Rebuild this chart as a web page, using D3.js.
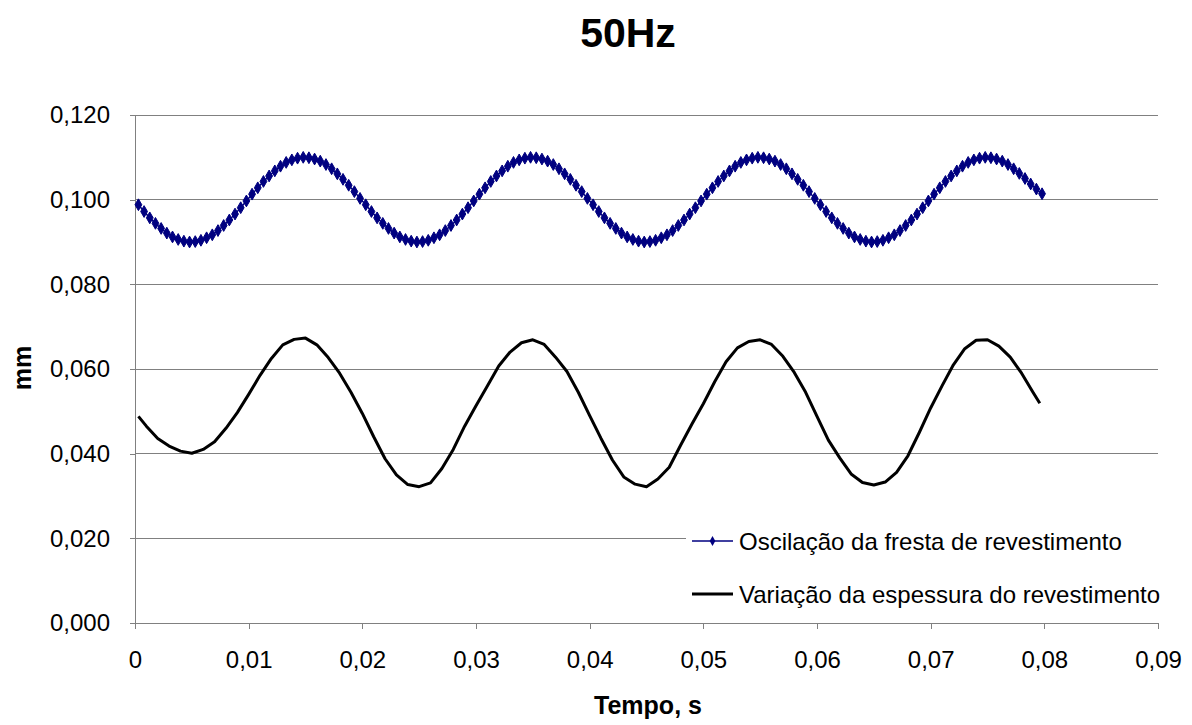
<!DOCTYPE html>
<html><head><meta charset="utf-8">
<script src="https://cdn.jsdelivr.net/npm/d3@7"></script>
<style>body{margin:0;background:#fff}svg{display:block}text{font-family:"Liberation Sans",Arial,sans-serif}</style>
</head><body><svg id="c" width="1192" height="725"></svg>
<script>
const title = "50Hz";
const xLabel = "Tempo, s";
const yLabel = "mm";
const xTicks = [0,0.01,0.02,0.03,0.04,0.05,0.06,0.07,0.08,0.09];
const xTickLabels = ["0","0,01","0,02","0,03","0,04","0,05","0,06","0,07","0,08","0,09"];
const yTicks = [0,0.02,0.04,0.06,0.08,0.10,0.12];
const yTickLabels = ["0,000","0,020","0,040","0,060","0,080","0,100","0,120"];
const seriesNames = ["Oscilação da fresta de revestimento","Variação da espessura do revestimento"];

// Series 1: time (s), sampled every 0.0005 s starting at 0.0003
const fendaStart = 0.0003, fendaStep = 0.0005;
const fendaValues = [
0.0988,0.0972,0.0957,0.0944,0.0932,0.0921,0.0912,0.0906,0.0902,0.0900,0.0901,0.0904,0.0910,0.0917,0.0927,0.0939,0.0952,0.0966,0.0981,0.0997,
0.1013,0.1028,0.1043,0.1056,0.1068,0.1079,0.1088,0.1094,0.1098,0.1100,0.1099,0.1096,0.1091,0.1083,0.1073,0.1061,0.1048,0.1034,0.1019,0.1003,
0.0988,0.0972,0.0957,0.0944,0.0932,0.0921,0.0912,0.0906,0.0902,0.0900,0.0901,0.0904,0.0910,0.0917,0.0927,0.0939,0.0952,0.0966,0.0981,0.0997,
0.1013,0.1028,0.1043,0.1056,0.1068,0.1079,0.1088,0.1094,0.1098,0.1100,0.1099,0.1096,0.1091,0.1083,0.1073,0.1061,0.1048,0.1034,0.1019,0.1003,
0.0988,0.0972,0.0957,0.0944,0.0932,0.0921,0.0912,0.0906,0.0902,0.0900,0.0901,0.0904,0.0910,0.0917,0.0927,0.0939,0.0952,0.0966,0.0981,0.0997,
0.1013,0.1028,0.1043,0.1056,0.1068,0.1079,0.1088,0.1094,0.1098,0.1100,0.1099,0.1096,0.1091,0.1083,0.1073,0.1061,0.1048,0.1034,0.1019,0.1003,
0.0988,0.0972,0.0957,0.0944,0.0932,0.0921,0.0912,0.0906,0.0902,0.0900,0.0901,0.0904,0.0910,0.0917,0.0927,0.0939,0.0952,0.0966,0.0981,0.0997,
0.1013,0.1028,0.1043,0.1056,0.1068,0.1079,0.1088,0.1094,0.1098,0.1100,0.1099,0.1096,0.1091,0.1083,0.1073,0.1062,0.1050,0.1037,0.1025,0.1014
];

// Series 2
const espTimes = [0.0003,0.001,0.002,0.003,0.004,0.005,0.006,0.007,0.008,0.009,0.010,0.011,0.012,0.013,0.014,0.015,0.016,0.017,0.018,0.019,
0.020,0.021,0.022,0.023,0.024,0.025,0.026,0.027,0.028,0.029,0.030,0.031,0.032,0.033,0.034,0.035,0.036,0.037,0.038,0.039,
0.040,0.041,0.042,0.043,0.044,0.045,0.046,0.047,0.048,0.049,0.050,0.051,0.052,0.053,0.054,0.055,0.056,0.057,0.058,0.059,
0.060,0.061,0.062,0.063,0.064,0.065,0.066,0.067,0.068,0.069,0.070,0.071,0.072,0.073,0.074,0.075,0.076,0.077,0.078,0.079,0.0796];
const espValues = [0.0488,0.0465,0.0436,0.0418,0.0406,0.0401,0.0410,0.0428,0.0460,0.0497,0.0540,0.0585,0.0625,0.0657,0.0670,0.0673,0.0657,0.0627,0.0590,0.0545,
0.0495,0.0440,0.0388,0.0350,0.0327,0.0322,0.0331,0.0365,0.0410,0.0465,0.0513,0.0560,0.0607,0.0640,0.0662,0.0669,0.0658,0.0628,0.0594,0.0545,
0.0490,0.0436,0.0385,0.0345,0.0328,0.0322,0.0340,0.0368,0.0420,0.0470,0.0518,0.0570,0.0617,0.0650,0.0665,0.0669,0.0658,0.0630,0.0592,0.0545,
0.0488,0.0432,0.0390,0.0352,0.0332,0.0326,0.0333,0.0356,0.0395,0.0450,0.0508,0.0560,0.0610,0.0648,0.0668,0.0669,0.0654,0.0628,0.0590,0.0545,0.0519];

const svg = d3.select("#c");
const L = 135, R = 1158, T = 115, B = 623;
const x = d3.scaleLinear().domain([0,0.09]).range([L,R]);
const y = d3.scaleLinear().domain([0,0.12]).range([B,T]);

// gridlines
svg.append("g").selectAll("line").data(yTicks.filter(d=>d>0)).join("line")
  .attr("x1",L).attr("x2",R).attr("y1",d=>y(d)).attr("y2",d=>y(d))
  .attr("stroke","#808080").attr("stroke-width",1).attr("shape-rendering","crispEdges");

// axes
const yAxis = svg.append("g").attr("transform",`translate(${L},0)`)
  .call(d3.axisLeft(y).tickValues(yTicks).tickFormat((d,i)=>yTickLabels[i]).tickSize(5).tickPadding(20));
const xAxis = svg.append("g").attr("transform",`translate(0,${B})`)
  .call(d3.axisBottom(x).tickValues(xTicks).tickFormat((d,i)=>xTickLabels[i]).tickSize(6).tickPadding(22));
[yAxis,xAxis].forEach(a=>{
  a.selectAll("path,line").attr("stroke","#808080").attr("shape-rendering","crispEdges");
  a.select(".domain").attr("stroke","#808080");
  a.selectAll("text").attr("font-size",24).attr("fill","#000").attr("font-family","Liberation Sans, Arial, sans-serif");
});

// legend background (hides gridline behind)
svg.append("rect").attr("x",686).attr("y",518).attr("width",R-686).attr("height",98).attr("fill","#fff");

// series 1
const fenda = fendaValues.map((v,i)=>({t: fendaStart + i*fendaStep, v}));
svg.append("path").datum(fenda)
  .attr("d",d3.line().x(d=>x(d.t)).y(d=>y(d.v)))
  .attr("fill","none").attr("stroke","#000080").attr("stroke-width",1.5);
const diamond = d3.symbol().type(d3.symbolDiamond).size(40);
svg.append("g").selectAll("path").data(fenda).join("path")
  .attr("d",diamond).attr("transform",d=>`translate(${x(d.t)},${y(d.v)})`)
  .attr("fill","#000080").attr("stroke","#000080").attr("stroke-width",1);

// series 2
const esp = espTimes.map((t,i)=>({t, v: espValues[i]}));
svg.append("path").datum(esp)
  .attr("d",d3.line().x(d=>x(d.t)).y(d=>y(d.v)))
  .attr("fill","none").attr("stroke","#000").attr("stroke-width",3).attr("stroke-linejoin","round");

// legend
const lg = svg.append("g");
lg.append("line").attr("x1",692).attr("x2",733).attr("y1",541).attr("y2",541).attr("stroke","#000080").attr("stroke-width",1.5);
lg.append("path").attr("d",d3.symbol().type(d3.symbolDiamond).size(28)).attr("transform","translate(712.5,541)").attr("fill","#000080");
lg.append("text").attr("x",739).attr("y",550).attr("font-size",24).text(seriesNames[0]);
lg.append("line").attr("x1",692).attr("x2",733).attr("y1",594).attr("y2",594).attr("stroke","#000").attr("stroke-width",3);
lg.append("text").attr("x",739).attr("y",603).attr("font-size",24).text(seriesNames[1]);

// titles
svg.append("text").attr("x",628).attr("y",47).attr("text-anchor","middle").attr("font-size",41).attr("font-weight","bold").text(title);
svg.append("text").attr("x",648).attr("y",714).attr("text-anchor","middle").attr("font-size",25).attr("font-weight","bold").text(xLabel);
svg.append("text").attr("transform","translate(31,368) rotate(-90)").attr("text-anchor","middle").attr("font-size",25).attr("font-weight","bold").text(yLabel);
</script></body></html>
